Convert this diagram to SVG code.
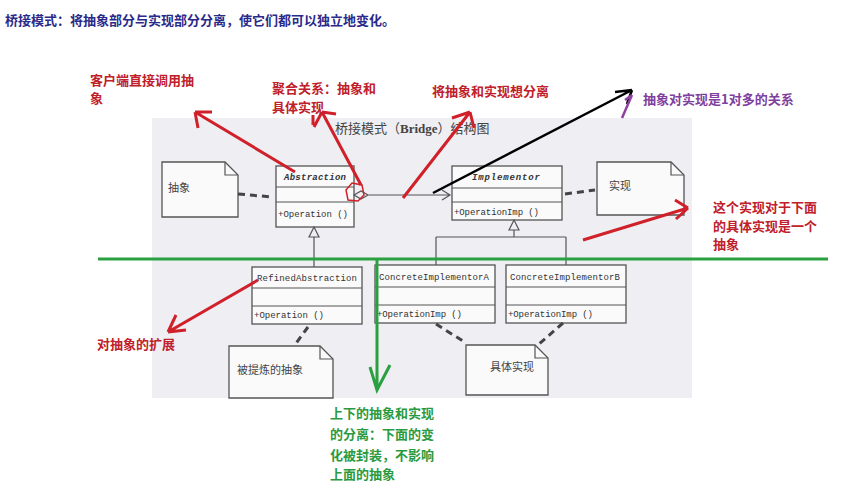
<svg xmlns="http://www.w3.org/2000/svg" width="858" height="499" viewBox="0 0 858 499">
<style>
.b{fill:#fafafa;stroke:#555;stroke-width:1.3}
.ln{stroke:#555;stroke-width:1.2;fill:none}
.d{stroke:#444;stroke-width:3;stroke-dasharray:7,5;fill:none}
.m{font-family:"Liberation Mono",monospace;font-size:9px;fill:#333}
.c{font-family:"Noto Sans CJK SC",sans-serif;font-size:11px;fill:#444}
.r{font-family:"Noto Sans CJK SC",sans-serif;font-size:13px;font-weight:bold;fill:#c0202a}
.ra{stroke:#d0202a;stroke-width:3;fill:none}
.ga{stroke:#2aa040;stroke-width:3;fill:none}
</style>
<rect width="858" height="499" fill="#fff"/>
<rect x="152" y="118" width="540" height="280" fill="#eeeef3"/>
<text x="5" y="25" font-family="Noto Sans CJK SC,sans-serif" font-size="13" font-weight="bold" fill="#2a2a8a">桥接模式：将抽象部分与实现部分分离，使它们都可以独立地变化。</text>
<text x="335" y="133" font-family="Noto Sans CJK SC,sans-serif" font-size="13" fill="#444">桥接模式（<tspan font-family="Liberation Serif,serif" font-weight="bold">Bridge</tspan>）结构图</text>

<g id="note-abs"><path class="b" d="M162 162H225L238 175V217H162Z"/><path class="ln" d="M225 162V175H238"/><text class="c" x="168" y="192">抽象</text></g>
<g id="note-impl"><path class="b" d="M597 162H671L684 175V215H597Z"/><path class="ln" d="M671 162V175H684"/><text class="c" x="609" y="190">实现</text></g>
<g id="note-refined"><path class="b" d="M229 346H320L333 359V398H229Z"/><path class="ln" d="M320 346V359H333"/><text class="c" x="237" y="374">被提炼的抽象</text></g>
<g id="note-concrete"><path class="b" d="M466 345H535L548 358V395H466Z"/><path class="ln" d="M535 345V358H548"/><text class="c" x="490" y="371">具体实现</text></g>

<g id="abstraction"><rect class="b" x="276" y="166" width="78" height="61"/><path class="ln" d="M276 187H354M276 202H354"/><text class="m" x="284" y="180" font-style="italic" font-weight="bold" textLength="62">Abstraction</text><text class="m" x="278" y="217" textLength="70">+Operation ()</text></g>
<g id="implementor"><rect class="b" x="452" y="166" width="110" height="54"/><path class="ln" d="M452 188H562M452 202H562"/><text class="m" x="472" y="180" font-style="italic" font-weight="bold" textLength="68">Implementor</text><text class="m" x="454" y="215" textLength="85">+OperationImp ()</text></g>
<g id="refined"><rect class="b" x="252" y="267" width="110" height="57"/><path class="ln" d="M252 288H362M252 306H362"/><text class="m" x="257" y="281" textLength="100">RefinedAbstraction</text><text class="m" x="254" y="318" textLength="70">+Operation ()</text></g>
<g id="cia"><rect class="b" x="375" y="265" width="120" height="58"/><path class="ln" d="M375 287H495M375 305H495"/><text class="m" x="379" y="280" textLength="110">ConcreteImplementorA</text><text class="m" x="377" y="317" textLength="85">+OperationImp ()</text></g>
<g id="cib"><rect class="b" x="506" y="265" width="120" height="58"/><path class="ln" d="M506 287H626M506 305H626"/><text class="m" x="510" y="280" textLength="110">ConcreteImplementorB</text><text class="m" x="508" y="317" textLength="85">+OperationImp ()</text></g>

<g id="connectors">
<path class="d" d="M238 194L272 197M565 194L595 190M308 327L294 346M436 324L466 343M563 323L538 345"/>
<path class="ln" d="M314 237V267M309 237H319L314 227Z"/>
<path class="ln" d="M514 230V237M436 237H566M436 237V265M566 237V265M509 230H519L514 220Z"/>
<path class="ln" d="M354 195L361 191L368 195L361 199Z M368 195H450 M442 190L450 195L442 200"/>
<path d="M346 190L352 183L362 185L364 195L358 201L348 200Z" fill="none" stroke="#d0202a" stroke-width="1.5"/>
<path class="ra" d="M295 172L195 112M195 112L198 128M195 112L212 112"/>
<path class="ra" d="M361 185L322 112M322 112L314 127M322 112L336 114M313 115V125"/>
<path class="ra" d="M403 198L470 112M470 112L452 118M470 112L474 128"/>
<path class="ra" d="M583 240L688 208M688 208L675 200M688 208L676 219"/>
<path class="ra" d="M258 280L168 332M168 332L176 315M168 332L186 330"/>
<path d="M433 193L632 90M632 90L615 92M632 90L627 104" stroke="#000" stroke-width="2.5" fill="none"/>
<path d="M622 118L632 95M632 95L625 100" stroke="#9040a0" stroke-width="2.5" fill="none"/>
<path class="ga" d="M98 259H828M377 259V390M370 367L377 390L390 365"/>
</g>

<text class="r" x="90" y="85">客户端直接调用抽</text><text class="r" x="90" y="103">象</text>
<text class="r" x="272" y="93">聚合关系：抽象和</text><text class="r" x="272" y="112">具体实现</text>
<text class="r" x="432" y="96">将抽象和实现想分离</text>
<text x="643" y="104" font-family="Noto Sans CJK SC,sans-serif" font-size="13" font-weight="bold" fill="#8040a0">抽象对实现是1对多的关系</text>
<text class="r" x="713" y="212">这个实现对于下面</text><text class="r" x="713" y="231">的具体实现是一个</text><text class="r" x="713" y="249">抽象</text>
<text class="r" x="97" y="349">对抽象的扩展</text>
<g font-family="Noto Sans CJK SC,sans-serif" font-size="13" font-weight="bold" fill="#2a9a40"><text x="330" y="418">上下的抽象和实现</text><text x="330" y="439">的分离：下面的变</text><text x="330" y="460">化被封装，不影响</text><text x="330" y="479">上面的抽象</text></g>
</svg>
